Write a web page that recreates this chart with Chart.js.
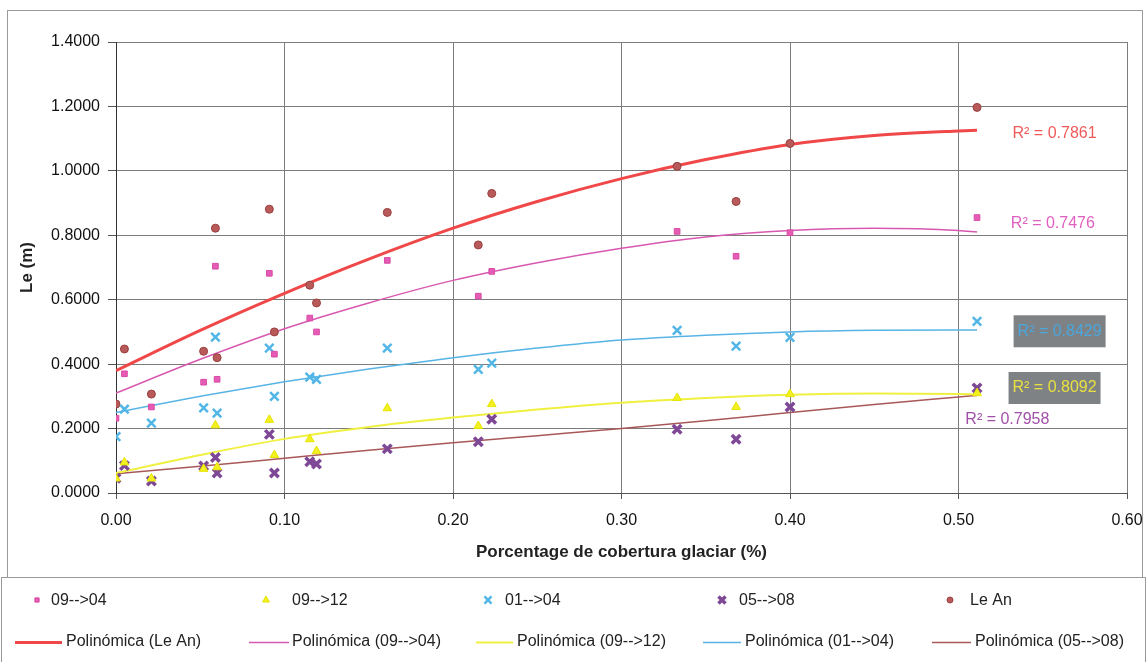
<!DOCTYPE html>
<html>
<head>
<meta charset="utf-8">
<style>
  html, body { margin: 0; padding: 0; background: #fff; }
  canvas { display: block; }
</style>
<script src="https://cdn.jsdelivr.net/npm/chart.js@4.4.1/dist/chart.umd.min.js"></script>
</head>
<body>
<canvas id="le-chart" width="1148" height="662"></canvas>
<script>
(function () {
  'use strict';

  // porcentaje de cobertura glaciar por estación
  var cobertura = [0.000, 0.005, 0.021, 0.052, 0.059, 0.060, 0.091, 0.094, 0.115, 0.119, 0.161, 0.215, 0.223, 0.333, 0.368, 0.400, 0.511];
  var leAn   = [0.276, 0.447, 0.307, 0.440, 0.822, 0.420, 0.881, 0.500, 0.645, 0.590, 0.871, 0.770, 0.930, 1.014, 0.905, 1.085, 1.197];
  var s0904  = [0.232, 0.370, 0.267, 0.344, 0.704, 0.353, 0.682, 0.431, 0.543, 0.500, 0.722, 0.611, 0.688, 0.812, 0.735, 0.808, 0.855];
  var s0912  = [0.045, 0.095, 0.045, 0.075, 0.210, 0.080, 0.227, 0.118, 0.167, 0.130, 0.263, 0.208, 0.276, 0.295, 0.267, 0.307, 0.310];
  var s0104  = [0.175, 0.260, 0.217, 0.264, 0.484, 0.248, 0.450, 0.300, 0.360, 0.353, 0.450, 0.384, 0.403, 0.505, 0.456, 0.483, 0.533];
  var s0508  = [0.046, 0.085, 0.037, 0.084, 0.110, 0.062, 0.182, 0.062, 0.097, 0.090, 0.137, 0.159, 0.229, 0.198, 0.167, 0.267, 0.326];

  // curvas polinómicas
  var trendX    = [0, 0.05, 0.10, 0.15, 0.20, 0.25, 0.30, 0.35, 0.40, 0.45, 0.50, 0.511];
  var trendLeAn = [0.380, 0.505, 0.620, 0.726, 0.822, 0.905, 0.976, 1.035, 1.082, 1.110, 1.124, 1.126];
  var trend0904 = [0.310, 0.415, 0.510, 0.590, 0.660, 0.715, 0.760, 0.795, 0.815, 0.822, 0.815, 0.810];
  var trend0912 = [0.062, 0.118, 0.168, 0.205, 0.234, 0.259, 0.280, 0.295, 0.305, 0.309, 0.307, 0.306];
  var trend0104 = [0.250, 0.300, 0.345, 0.385, 0.420, 0.450, 0.475, 0.490, 0.500, 0.505, 0.506, 0.506];
  var trend0508 = [0.060, 0.083, 0.108, 0.133, 0.156, 0.178, 0.200, 0.224, 0.250, 0.275, 0.298, 0.303];

  var xTicks = [0, 0.1, 0.2, 0.3, 0.4, 0.5, 0.6];
  var yTicks = [0, 0.2, 0.4, 0.6, 0.8, 1.0, 1.2, 1.4];

  var r2Labels = [
    { text: 'R² = 0.7861', x: 0.557, y: 1.116, color: '#ef5a5a' },
    { text: 'R² = 0.7476', x: 0.556, y: 0.837, color: '#e060c0' },
    { text: 'R² = 0.8429', x: 0.560, y: 0.502, color: '#4aa6dc', bg: '#7f8284' },
    { text: 'R² = 0.8092', x: 0.557, y: 0.326, color: '#e8e040', bg: '#7f8284' },
    { text: 'R² = 0.7958', x: 0.529, y: 0.229, color: '#a050a8' }
  ];

  var FONT = '"Liberation Sans", Arial, sans-serif';

  function pts(xs, ys) {
    return xs.map(function (x, i) { return { x: x, y: ys[i] }; });
  }

  function trend(label, ys, color, width) {
    return {
      label: label,
      data: pts(trendX, ys),
      showLine: true,
      borderColor: color,
      backgroundColor: color,
      borderWidth: width,
      pointRadius: 0,
      cubicInterpolationMode: 'monotone',
      order: 2
    };
  }

  var datasets = [
    { label: '09-->04', data: pts(cobertura, s0904), pointStyle: 'rect', pointRadius: 4,
      backgroundColor: '#e65cb4', borderColor: '#d84aa6', borderWidth: 1, order: 1 },
    { label: '09-->12', data: pts(cobertura, s0912), pointStyle: 'triangle', pointRadius: 5,
      backgroundColor: '#f2f020', borderColor: '#e6e400', borderWidth: 1, order: 1 },
    { label: '01-->04', data: pts(cobertura, s0104), pointStyle: 'crossRot', pointRadius: 6,
      backgroundColor: '#52b6e6', borderColor: '#52b6e6', borderWidth: 2.5, order: 1 },
    { label: '05-->08', data: pts(cobertura, s0508), pointStyle: 'crossRot', pointRadius: 6,
      backgroundColor: '#7e4896', borderColor: '#7e4896', borderWidth: 3.5, order: 1 },
    { label: 'Le An', data: pts(cobertura, leAn), pointStyle: 'circle', pointRadius: 4,
      backgroundColor: '#b85a5a', borderColor: '#9a4040', borderWidth: 1, order: 1 },
    trend('Polinómica (Le An)', trendLeAn, '#f04848', 3),
    trend('Polinómica (09-->04)', trend0904, '#d858b0', 1.5),
    trend('Polinómica (09-->12)', trend0912, '#f0f040', 2),
    trend('Polinómica (01-->04)', trend0104, '#58b4e4', 1.5),
    trend('Polinómica (05-->08)', trend0508, '#a85858', 1.5)
  ];

  var frame = {
    id: 'frame',
    beforeDraw: function (chart) {
      var ctx = chart.ctx;
      ctx.save();
      ctx.fillStyle = '#fff';
      ctx.fillRect(0, 0, chart.width, chart.height);
      ctx.strokeStyle = '#9a9a9a';
      ctx.lineWidth = 1;
      ctx.strokeRect(7.5, 10.5, 1135, 567);
      ctx.strokeRect(1.5, 577.5, 1144, 90);
      ctx.restore();
    }
  };

  var r2Plugin = {
    id: 'r2',
    afterDatasetsDraw: function (chart) {
      var ctx = chart.ctx;
      var xs = chart.scales.x, ys = chart.scales.y;
      ctx.save();
      ctx.font = '16px ' + FONT;
      ctx.textAlign = 'center';
      ctx.textBaseline = 'middle';
      r2Labels.forEach(function (l) {
        var px = xs.getPixelForValue(l.x);
        var py = ys.getPixelForValue(l.y);
        if (l.bg) {
          ctx.fillStyle = l.bg;
          ctx.fillRect(px - 46, py - 16, 92, 32);
        }
        ctx.fillStyle = l.color;
        ctx.fillText(l.text, px, py);
      });
      ctx.restore();
    }
  };

  // leyenda en dos filas, como en la hoja de cálculo
  var legendCols = [
    { mark: 37, text: 51 }, { mark: 266, text: 292 }, { mark: 488, text: 505 },
    { mark: 722, text: 739 }, { mark: 950, text: 970 }
  ];
  var lineCols = [
    { from: 15, to: 62, text: 66 }, { from: 249, to: 289, text: 292 }, { from: 476, to: 513, text: 517 },
    { from: 703, to: 741, text: 745 }, { from: 932, to: 971, text: 975 }
  ];

  var legendPlugin = {
    id: 'sheetLegend',
    afterDraw: function (chart) {
      var ctx = chart.ctx;
      ctx.save();
      ctx.font = '16px ' + FONT;
      ctx.textBaseline = 'middle';
      ctx.textAlign = 'left';
      legendCols.forEach(function (c, i) {
        var ds = chart.data.datasets[i];
        ctx.fillStyle = ds.backgroundColor;
        ctx.strokeStyle = ds.borderColor;
        ctx.lineWidth = ds.borderWidth;
        Chart.helpers.drawPoint(ctx, {
          pointStyle: ds.pointStyle, radius: ds.pointRadius - 1, borderWidth: ds.borderWidth, rotation: 0
        }, c.mark, 600);
        ctx.fillStyle = '#222';
        ctx.fillText(ds.label, c.text, 601);
      });
      lineCols.forEach(function (c, i) {
        var ds = chart.data.datasets[i + 5];
        ctx.strokeStyle = ds.borderColor;
        ctx.lineWidth = ds.borderWidth;
        ctx.beginPath();
        ctx.moveTo(c.from, 642.5);
        ctx.lineTo(c.to, 642.5);
        ctx.stroke();
        ctx.fillStyle = '#222';
        ctx.fillText(ds.label, c.text, 642);
      });
      ctx.restore();
    }
  };

  Chart.defaults.font.family = FONT;
  Chart.defaults.color = '#111';

  new Chart(document.getElementById('le-chart').getContext('2d'), {
    type: 'scatter',
    data: { datasets: datasets },
    plugins: [frame, r2Plugin, legendPlugin],
    options: {
      responsive: false,
      animation: false,
      layout: { padding: { left: 13, top: 42, right: 21, bottom: 95 } },
      plugins: {
        legend: { display: false },
        tooltip: { enabled: false }
      },
      scales: {
        x: {
          type: 'linear',
          min: 0,
          max: 0.6,
          afterBuildTicks: function (scale) {
            scale.ticks = xTicks.map(function (v) { return { value: v }; });
          },
          afterFit: function (scale) {
            scale.height = 74;
            scale.paddingLeft = 0;
            scale.paddingRight = 0;
          },
          grid: { color: '#7c7c7c', tickLength: 6, tickColor: '#555' },
          border: { color: '#555' },
          ticks: {
            padding: 12,
            maxRotation: 0,
            font: { size: 16 },
            color: '#111',
            callback: function (v) { return Number(v).toFixed(2); }
          },
          title: {
            display: true,
            text: 'Porcentage de cobertura glaciar (%)',
            font: { size: 17, weight: 'bold' },
            color: '#222'
          }
        },
        y: {
          min: 0,
          max: 1.4,
          afterBuildTicks: function (scale) {
            scale.ticks = yTicks.map(function (v) { return { value: v }; });
          },
          afterFit: function (scale) {
            scale.width = 103;
            scale.paddingTop = 0;
            scale.paddingBottom = 0;
          },
          grid: { color: '#7c7c7c', tickLength: 8, tickColor: '#555' },
          border: { color: '#333' },
          ticks: {
            padding: 8,
            font: { size: 16 },
            color: '#111',
            callback: function (v) { return Number(v).toFixed(4); }
          },
          title: {
            display: true,
            text: 'Le (m)',
            font: { size: 17, weight: 'bold' },
            color: '#222'
          }
        }
      }
    }
  });
})();
</script>
</body>
</html>
